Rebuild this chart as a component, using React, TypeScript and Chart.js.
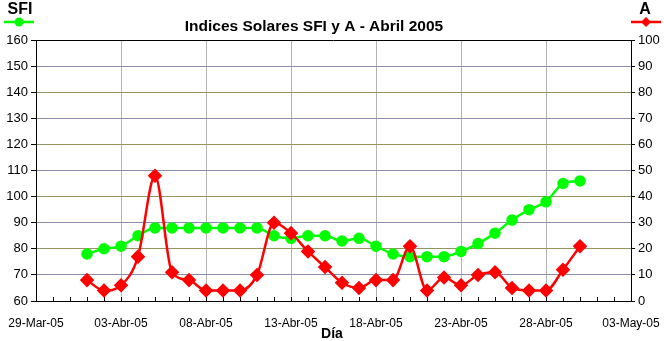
import React, { useEffect, useRef } from 'react';
import { Chart, registerables } from 'chart.js';

Chart.register(...registerables);

// X axis tick labels (every 5 days starting 29-Mar-05)
const xTickLabels = ['29-Mar-05', '03-Abr-05', '08-Abr-05', '13-Abr-05', '18-Abr-05', '23-Abr-05', '28-Abr-05', '03-May-05'];
// Days of April 2005
const aprilDays = [1, 2, 3, 4, 5, 6, 7, 8, 9, 10, 11, 12, 13, 14, 15, 16, 17, 18, 19, 20, 21, 22, 23, 24, 25, 26, 27, 28, 29, 30];
// Solar flux index
const sfiValues = [78, 80, 81, 85, 88, 88, 88, 88, 88, 88, 88, 85, 84, 85, 85, 83, 84, 81, 78, 77, 77, 77, 79, 82, 86, 91, 95, 98, 105, 106];
// A index
const aValues = [8, 4, 6, 17, 48, 11, 8, 4, 4, 4, 10, 30, 26, 19, 13, 7, 5, 8, 8, 21, 4, 9, 6, 10, 11, 5, 4, 4, 12, 21];

const titleText = 'Indices Solares SFI y A - Abril 2005';
const leftLabel = 'SFI';
const rightLabel = 'A';
const xTitle = 'Día';

// days from 29-Mar-05 to 1-Apr-05
const APRIL_OFFSET = 2;

const FONT = '"Liberation Sans", Arial, sans-serif';
const GREEN = '#00ff00';
const RED = '#ff0000';

export default function App() {
  const ref = useRef<HTMLCanvasElement | null>(null);

  useEffect(() => {
    document.body.style.margin = '0';
    const canvas = ref.current;
    if (!canvas) return;

    const decor = {
      id: 'decor',
      beforeDatasetsDraw(chart: any) {
        const { ctx, chartArea } = chart;
        const xs = chart.scales.x;
        ctx.save();
        ctx.strokeStyle = '#000';
        ctx.lineWidth = 1;
        // top border
        ctx.beginPath();
        ctx.moveTo(chartArea.left, chartArea.top + 0.5);
        ctx.lineTo(chartArea.right, chartArea.top + 0.5);
        ctx.stroke();
        // minor day ticks on x axis
        for (let d = xs.min; d <= xs.max; d++) {
          const px = Math.round(xs.getPixelForValue(d)) + 0.5;
          ctx.beginPath();
          ctx.moveTo(px, chartArea.bottom);
          ctx.lineTo(px, chartArea.bottom - 4);
          ctx.stroke();
        }
        ctx.restore();
      },
      afterDraw(chart: any) {
        const { ctx } = chart;
        ctx.save();
        ctx.fillStyle = '#000';
        ctx.textBaseline = 'middle';
        ctx.textAlign = 'center';
        ctx.font = `bold 15.5px ${FONT}`;
        ctx.fillText(titleText, 314, 27);
        ctx.font = `bold 16px ${FONT}`;
        ctx.fillText(leftLabel, 20, 10);
        ctx.fillText(rightLabel, 645, 10);
        ctx.font = `bold 14px ${FONT}`;
        ctx.fillText(xTitle, 332, 334);

        // legend samples
        ctx.lineWidth = 2.5;
        ctx.strokeStyle = GREEN;
        ctx.beginPath();
        ctx.moveTo(4, 22);
        ctx.lineTo(34, 22);
        ctx.stroke();
        ctx.fillStyle = GREEN;
        ctx.beginPath();
        ctx.arc(19, 22, 4.5, 0, Math.PI * 2);
        ctx.fill();

        ctx.strokeStyle = RED;
        ctx.beginPath();
        ctx.moveTo(631, 22);
        ctx.lineTo(661, 22);
        ctx.stroke();
        ctx.fillStyle = RED;
        ctx.beginPath();
        ctx.moveTo(646, 17);
        ctx.lineTo(651, 22);
        ctx.lineTo(646, 27);
        ctx.lineTo(641, 22);
        ctx.closePath();
        ctx.fill();
        ctx.restore();
      },
    };

    const chart = new Chart(canvas, {
      type: 'line',
      data: {
        datasets: [
          {
            label: 'A',
            data: aprilDays.map((d, i) => ({ x: d + APRIL_OFFSET, y: aValues[i] })),
            yAxisID: 'yA',
            borderColor: RED,
            backgroundColor: RED,
            borderWidth: 2.5,
            pointStyle: 'rectRot',
            pointRadius: 5.5,
            pointHoverRadius: 5.5,
            cubicInterpolationMode: 'monotone',
            tension: 0.4,
          },
          {
            label: 'SFI',
            data: aprilDays.map((d, i) => ({ x: d + APRIL_OFFSET, y: sfiValues[i] })),
            yAxisID: 'ySFI',
            borderColor: GREEN,
            backgroundColor: GREEN,
            borderWidth: 2.5,
            pointStyle: 'circle',
            pointRadius: 4.5,
            pointHoverRadius: 4.5,
            cubicInterpolationMode: 'monotone',
            tension: 0.4,
          },
        ],
      },
      options: {
        responsive: false,
        animation: false,
        devicePixelRatio: 1,
        layout: { autoPadding: false, padding: { top: 40, left: 0, right: 0, bottom: 0 } },
        plugins: {
          legend: { display: false },
          title: { display: false },
          tooltip: { enabled: false },
        },
        scales: {
          x: {
            type: 'linear',
            min: 0,
            max: 35,
            ticks: {
              stepSize: 5,
              autoSkip: false,
              maxRotation: 0,
              padding: 15,
              color: '#000',
              font: { family: FONT, size: 12 },
              callback: (v: any) => xTickLabels[Math.round(Number(v) / 5)] ?? '',
            },
            grid: {
              color: (c: any) => (c.tick && (c.tick.value === 0 || c.tick.value === 35) ? 'rgba(0,0,0,0)' : '#b4b4b4'),
              drawTicks: false,
              lineWidth: 1,
            },
            border: { display: true, color: '#000', width: 1 },
            afterFit: (s: any) => {
              s.height = 40;
              s.paddingLeft = 0;
              s.paddingRight = 0;
            },
          },
          ySFI: {
            type: 'linear',
            position: 'left',
            min: 60,
            max: 160,
            ticks: {
              stepSize: 10,
              color: '#000',
              padding: 3,
              font: { family: FONT, size: 13 },
            },
            grid: {
              color: (c: any) => {
                const v = c.tick ? c.tick.value : 0;
                if (v === 60 || v === 160) return 'rgba(0,0,0,0)';
                return (v / 10) % 2 === 1 ? '#8c8cac' : '#94945e';
              },
              tickColor: '#000',
              tickLength: 5,
              drawTicks: true,
            },
            border: { display: true, color: '#000', width: 1 },
            afterFit: (s: any) => {
              s.width = 36;
              s.paddingTop = 0;
              s.paddingBottom = 0;
            },
          },
          yA: {
            type: 'linear',
            position: 'right',
            min: 0,
            max: 100,
            ticks: {
              stepSize: 10,
              color: '#000',
              padding: 3,
              font: { family: FONT, size: 13 },
            },
            grid: {
              drawOnChartArea: false,
              tickColor: '#000',
              tickLength: 4,
              drawTicks: true,
            },
            border: { display: true, color: '#000', width: 1 },
            afterFit: (s: any) => {
              s.width = 33;
              s.paddingTop = 0;
              s.paddingBottom = 0;
            },
          },
        },
      },
      plugins: [decor],
    });

    return () => chart.destroy();
  }, []);

  return (
    <div style={{ position: 'absolute', left: 0, top: 0, width: 664, height: 341, background: '#fff' }}>
      <canvas ref={ref} width={664} height={341} />
    </div>
  );
}
